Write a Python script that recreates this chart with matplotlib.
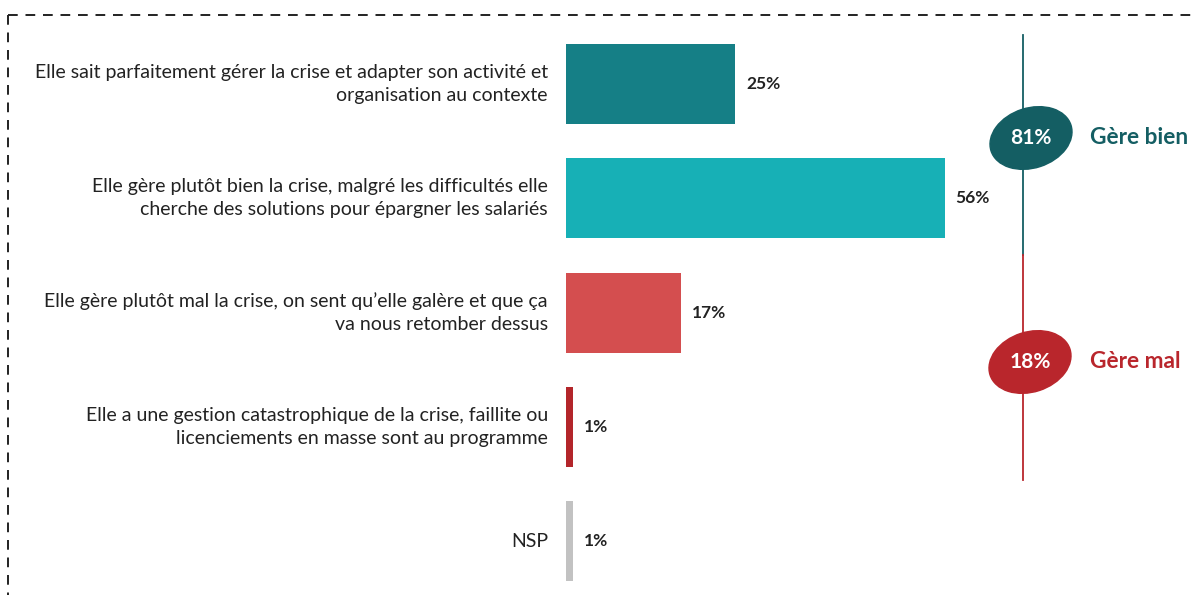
import matplotlib.pyplot as plt
from matplotlib.patches import Ellipse

plt.rcParams['font.family'] = ['Lato', 'DejaVu Sans']

# data
labels = [
    "Elle sait parfaitement gérer la crise et adapter son activité et\norganisation au contexte",
    "Elle gère plutôt bien la crise, malgré les difficultés elle\ncherche des solutions pour épargner les salariés",
    "Elle gère plutôt mal la crise, on sent qu\u2019elle galère et que ça\nva nous retomber dessus",
    "Elle a une gestion catastrophique de la crise, faillite ou\nlicenciements en masse sont au programme",
    "NSP",
]
values = [25, 56, 17, 1, 1]
bar_colors = ['#157F86', '#17B0B6', '#D44E4F', '#B3252A', '#C2C2C2']
group_names = ['Gère bien', 'Gère mal']
group_values = [81, 18]
group_colors = ['#145E63', '#B9262C']

W, H = 1197, 595
fig = plt.figure(figsize=(W / 100, H / 100), dpi=100)

# overlay axes in pixel coords
ov = fig.add_axes([0, 0, 1, 1])
ov.set_xlim(0, W)
ov.set_ylim(H, 0)
ov.axis('off')

# dashed frame (top and left only visible)
ov.plot([8, W], [15, 15], color='#222222', lw=1.4, ls=(0, (5, 4)))
ov.plot([8, 8], [15, H], color='#222222', lw=1.4, ls=(0, (5, 4)))

# bar axes
px_per_pct = 6.76
x0 = 566
xmax = 60
ax = fig.add_axes([x0 / W, 0, xmax * px_per_pct / W, 1])
ax.set_xlim(0, xmax)
top0, step = 84, 114.3
ax.set_ylim((H - top0) / step, -top0 / step)
ax.axis('off')

ypos = list(range(len(values)))
ax.barh(ypos, values, height=0.7, color=bar_colors)
for y, v, lab in zip(ypos, values, labels):
    ax.text(v + 11 / px_per_pct, y, f"{v}%", va='center', ha='left',
            fontsize=12.5, color='#222222', fontweight='bold')
    ax.text(-18 / px_per_pct, y, lab, va='center', ha='right',
            fontsize=14, color='#222222', linespacing=1.45)

# right side: vertical line and ellipses
lx = 1023
ov.plot([lx, lx], [35, 255], color='#145E63', lw=1.3)
ov.plot([lx, lx], [255, 480], color='#B9262C', lw=1.3)
centers = [(1031, 138), (1030, 362)]
for (cx, cy), g, gv, c in zip(centers, group_names, group_values, group_colors):
    ov.add_patch(Ellipse((cx, cy), 84, 60, angle=-18, color=c, zorder=3))
    ov.text(cx, cy, f"{gv}%", ha='center', va='center', color='white',
            fontsize=15, fontweight='bold', zorder=4)
    ov.text(1090, cy, g, ha='left', va='center', color=c,
            fontsize=16.3, fontweight='bold')

fig.savefig('out.png', dpi=100)
